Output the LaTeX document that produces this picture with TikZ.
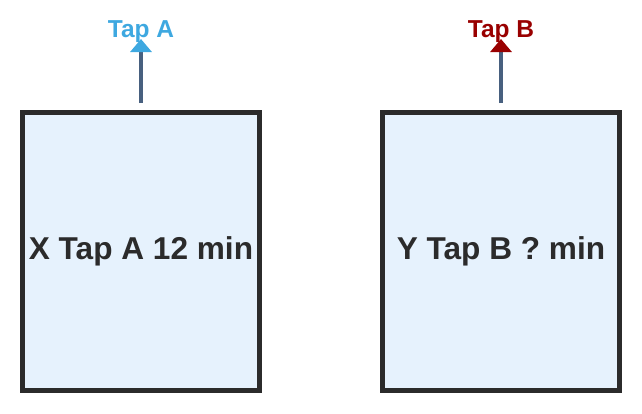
\documentclass[tikz,border=0pt]{standalone}
\usepackage{fontspec}
\setmainfont{Liberation Sans}
\usepackage{tikz}
\usetikzlibrary{arrows.meta}
\usetikzlibrary{positioning}
\definecolor{boxfill}{HTML}{E6F2FD}
\definecolor{boxline}{HTML}{2B2B2B}
\definecolor{pipe}{HTML}{48607F}
\definecolor{tapAcol}{HTML}{3EA8E0}
\definecolor{tapBcol}{HTML}{990000}
\tikzset{tank/.style={rectangle,draw=boxline,line width=5pt,fill=boxfill,minimum width=237pt,minimum height=278pt,inner sep=0pt,text=boxline,font=\fontsize{31.6}{34}\selectfont\bfseries}}
\tikzset{taplabel/.style={inner sep=0pt,font=\fontsize{24.5}{26}\selectfont\bfseries}}
\tikzset{flow/.style={line width=4pt,draw=pipe}}

\begin{document}
\begin{tikzpicture}[x=1pt,y=-1pt]
\useasboundingbox (0,0) rectangle (642,413);
\foreach \n/\x/\txt/\col in {A/141/X Tap A 12 min/tapAcol,B/501/Y Tap B ? min/tapBcol} {
	\node[tank] (tank\n) at (\x,251.5) {\txt};
	\node[taplabel,text=\col,anchor=base] (tap\n) at (\x,37) {Tap \n};
	\coordinate (out\n) at (\x,103);
	\coordinate (tip\n) at (\x,39);
	\draw[flow,-{Triangle[width=21pt,length=13pt,color=\col]}] (out\n) -- (tip\n);
}
\end{tikzpicture}
\end{document}
